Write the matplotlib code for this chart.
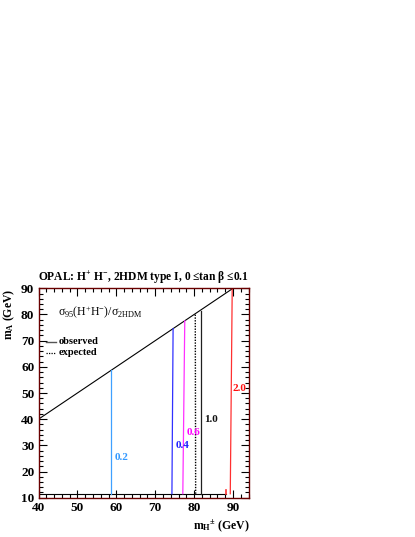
import matplotlib
matplotlib.use("Agg")
import matplotlib.pyplot as plt
from matplotlib.ticker import MultipleLocator

plt.rcParams['font.family'] = ['Liberation Serif', 'DejaVu Serif']
plt.rcParams['mathtext.fontset'] = 'custom'
plt.rcParams['mathtext.rm'] = 'Liberation Serif'
plt.rcParams['mathtext.it'] = 'Liberation Serif'
plt.rcParams['mathtext.bf'] = 'Liberation Serif:bold'
plt.rcParams['mathtext.default'] = 'regular'

# Data: contour limit lines (x at bottom, x at top, top y)
labels = ['0.2', '0.4', '0.6', '1.0', '2.0']
colors = ['#3fa0ff', '#3030ff', '#ff30ff', '#202020', '#ff3030']
x_bottom = [58.6, 74.3, 77.1, 81.8, 89.3]
x_top = [58.6, 74.6, 77.6, 81.8, 89.8]
y_bottom = [11.5, 11.5, 11.5, 11.5, 11.5]
y_top = [58.6, 74.6, 77.6, 81.3, 90.0]
label_x = [59.6, 75.2, 78.0, 82.6, 90.0]
label_y = [25.2, 29.9, 34.8, 39.9, 51.9]

exp_x = [80.4, 80.3]
exp_y = [11.5, 80.2]

diag_x = [40, 90]
diag_y = [40, 90]

floor_x = [40, 88.3]
floor_y = [11.5, 11.5]

fig = plt.figure(figsize=(4.15, 5.37), dpi=100)
ax = fig.add_axes([0.0928, 0.0732, 0.508, 0.3899])
ax.set_xlim(40, 94.2)
ax.set_ylim(10, 90)

ax.plot(diag_x, diag_y, color='black', lw=0.8)
ax.plot(floor_x, floor_y, color='black', lw=0.8)
ax.plot([88.3, 88.3], [11.5, 13.0], color='#ff3030', lw=1.2)
for xb, xt, yb, yt, c in zip(x_bottom, x_top, y_bottom, y_top, colors):
    ax.plot([xb, xt], [yb, yt], color=c, lw=0.9)
ax.plot(exp_x, exp_y, color='black', lw=1.0, ls=(0, (1, 1)))

label_colors = ['#3399ff', '#2020ff', '#ff00ff', '#101010', '#ff1010']
for lx, ly, t, c in zip(label_x, label_y, labels, label_colors):
    ax.text(lx, ly, t, color=c, fontsize=8, fontweight='bold', va='center', ha='left')

# legend
ax.text(45.0, 80.5, r'$\sigma_{95}$(H$^{+}$H$^{-}$)/$\sigma_{2HDM}$', fontsize=8.5, va='center', ha='left')
ax.plot([41.8, 44.6], [69.5, 69.5], color='#555555', lw=1.0)
ax.plot([41.8, 44.6], [65.3, 65.3], color='black', lw=0.9, ls=(0, (1, 1)))
ax.text(45.2, 69.5, 'observed', fontsize=7.5, fontweight='bold', va='center', ha='left')
ax.text(45.2, 65.3, 'expected', fontsize=7.5, fontweight='bold', va='center', ha='left')

for s in ax.spines.values():
    s.set_color('#6a0000')
    s.set_linewidth(1.0)
ax.xaxis.set_major_locator(MultipleLocator(10))
ax.xaxis.set_minor_locator(MultipleLocator(2))
ax.yaxis.set_major_locator(MultipleLocator(10))
ax.yaxis.set_minor_locator(MultipleLocator(2))
ax.tick_params(which='both', direction='in', top=True, right=True, color='black', width=0.8)
ax.tick_params(which='major', length=6, labelsize=9.5, pad=3)
ax.tick_params(which='minor', length=3)
for lab in ax.get_xticklabels() + ax.get_yticklabels():
    lab.set_fontweight('bold')

ax.set_title('OPAL: H$^{+}$ H$^{-}$, 2HDM type I, 0 \u2264tan \u03b2 \u22640.1',
             fontsize=8.3, fontweight='bold', pad=5)
ax.set_ylabel('m$_{A}$ (GeV)', fontsize=8.5, fontweight='bold', loc='top', labelpad=3)
ax.set_xlabel('m$_{H}$$^{\u00b1}$ (GeV)', fontsize=8.5, fontweight='bold', loc='right', labelpad=3)

fig.savefig('out.png', dpi=100)
